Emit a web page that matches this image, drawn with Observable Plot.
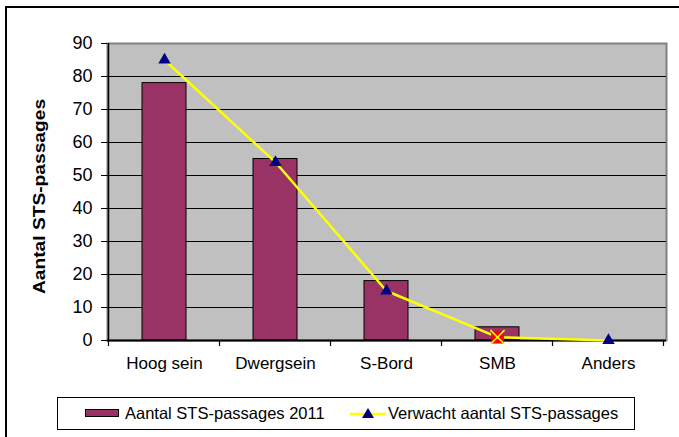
<!DOCTYPE html>
<html>
<head>
<meta charset="utf-8">
<script src="https://cdn.jsdelivr.net/npm/d3@7"></script>
<script src="https://cdn.jsdelivr.net/npm/@observablehq/plot@0.6"></script>
<style>
  html, body { margin: 0; padding: 0; background: #fff; overflow: hidden; }
  #wrap { position: relative; width: 679px; height: 437px; font-family: "Liberation Sans", Arial, sans-serif; }
  #border { position: absolute; left: 5px; top: 6px; width: 674px; height: 431px; border-left: 2px solid #000; border-top: 2px solid #000; box-sizing: border-box; }
  #chart { position: absolute; left: 0; top: 0; }
  #legend { position: absolute; left: 57px; top: 397px; width: 578px; height: 33px; border: 1.5px solid #000; box-sizing: border-box; background: #fff; font-size: 16.5px; color: #000; }
  .item { position: absolute; top: 0; height: 30px; line-height: 30px; white-space: nowrap; }
  .sw { position: absolute; width: 34px; height: 8px; background: #993366; border: 1px solid #000; box-sizing: border-box; }
</style>
</head>
<body>
<div id="wrap">
  <div id="border"></div>
  <div id="chart"></div>
  <div id="legend"></div>
</div>
<script>
const categories = ["Hoog sein", "Dwergsein", "S-Bord", "SMB", "Anders"];
const actual2011 = [78, 55, 18, 4, 0];
const expected = [85, 54, 15, 1, 0];
const yTicks = [0, 10, 20, 30, 40, 50, 60, 70, 80, 90];
const yLabel = "Aantal STS-passages";
const seriesBar = "Aantal STS-passages 2011";
const seriesLine = "Verwacht aantal STS-passages";

const data = categories.map((c, i) => ({cat: c, actual: actual2011[i], expected: expected[i]}));
const gridTicks = yTicks.filter(t => t > 0 && t < 90);

const plot = Plot.plot({
  width: 679,
  height: 395,
  marginLeft: 107,
  marginRight: 13,
  marginTop: 43,
  marginBottom: 55,
  style: {fontFamily: "'Liberation Sans', Arial, sans-serif", fontSize: "17px", color: "#000", background: "transparent", overflow: "visible"},
  x: {domain: categories, paddingInner: 0.6, paddingOuter: 0.3, label: null},
  y: {domain: [0, 90], label: null},
  marks: [
    Plot.frame({fill: "#c0c0c0", stroke: "#808080", strokeWidth: 2}),
    Plot.ruleY(gridTicks, {stroke: "#000", strokeWidth: 1.2}),
    Plot.barY(data, {x: "cat", y: "actual", fill: "#993366", stroke: "#000", strokeWidth: 1}),
    Plot.ruleY([0], {stroke: "#000", strokeWidth: 2}),
    Plot.line(data, {x: "cat", y: "expected", stroke: "#ffff00", strokeWidth: 2.5}),
    Plot.dot(data, {x: "cat", y: "expected", symbol: "triangle", fill: "#000080", r: 4.6, filter: d => d.cat !== "SMB"}),
    Plot.dot(data, {x: "cat", y: "expected", symbol: "square", fill: "#ff0000", r: 7.2, filter: d => d.cat === "SMB"}),
    Plot.dot(data, {x: "cat", y: "expected", symbol: "times", stroke: "#ffff00", strokeWidth: 1.5, r: 6.5, filter: d => d.cat === "SMB"}),
    Plot.axisY(yTicks, {tickSize: 6, tickPadding: 9, label: null, fontSize: 18}),
    Plot.axisX({tickSize: 0, tickPadding: 16, label: null})
  ]
});
document.getElementById("chart").appendChild(plot);

// Axis lines, category boundary ticks and the rotated y label, placed with the plot's own scales
const svg = d3.select(plot);
const xs = plot.scale("x");
const ys = plot.scale("y");
const y0 = ys.apply(0), y90 = ys.apply(90);
const bounds = [];
categories.forEach(c => {
  const center = xs.apply(c) + xs.bandwidth / 2;
  bounds.push(center - xs.step / 2);
});
bounds.push(xs.apply(categories[categories.length - 1]) + xs.bandwidth / 2 + xs.step / 2);
const g = svg.append("g");
g.append("line").attr("x1", bounds[0]).attr("x2", bounds[0]).attr("y1", y90).attr("y2", y0)
  .attr("stroke", "#000").attr("stroke-width", 1.5);
bounds.forEach(b => {
  g.append("line").attr("x1", b).attr("x2", b).attr("y1", y0).attr("y2", y0 + 6)
    .attr("stroke", "#000").attr("stroke-width", 1.2);
});
svg.append("text")
  .attr("transform", `translate(39,${(y0 + y90) / 2 + 5}) rotate(-90) scale(1.13,1)`)
  .attr("text-anchor", "middle")
  .attr("dominant-baseline", "central")
  .attr("font-weight", "bold")
  .attr("font-size", 17)
  .attr("fill", "#000")
  .text(yLabel);

// Legend
const legend = document.getElementById("legend");
legend.innerHTML = `
  <div class="sw" style="left:27px; top:11px;"></div>
  <div class="item" style="left:67px;">${seriesBar}</div>
  <svg style="position:absolute; left:292px; top:6px;" width="36" height="20">
    <line x1="0" x2="36" y1="10" y2="10" stroke="#ffff00" stroke-width="2.5"></line>
    <path d="M18,4 L24,14 L12,14 Z" fill="#000080"></path>
  </svg>
  <div class="item" style="left:330px;">${seriesLine}</div>`;
</script>
</body>
</html>
